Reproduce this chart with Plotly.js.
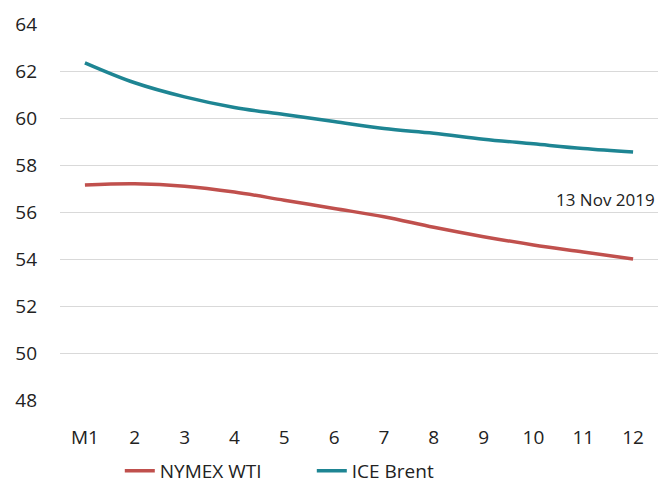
<!DOCTYPE html>
<html>
<head>
<meta charset="utf-8">
<script src="https://cdn.plot.ly/plotly-3.0.1.min.js"></script>
<style>html,body{margin:0;padding:0;background:#fff;}#chart{width:659px;height:483px;}</style>
</head>
<body>
<div id="chart"></div>
<script>
const months = ["M1","2","3","4","5","6","7","8","9","10","11","12"];
const wti = [57.15, 57.2, 57.1, 56.85, 56.5, 56.15, 55.8, 55.35, 54.95, 54.6, 54.3, 54.0];
const brent = [62.35, 61.5, 60.9, 60.45, 60.15, 59.85, 59.55, 59.35, 59.1, 58.9, 58.7, 58.55];
const noteText = "13 Nov 2019";

const font = "Open Sans, Noto Sans, sans-serif";
const traces = [
  {x: months, y: wti, name: "NYMEX WTI", type: "scatter", mode: "lines",
   line: {color: "#C0504D", width: 3.5, shape: "spline"}},
  {x: months, y: brent, name: "ICE Brent", type: "scatter", mode: "lines",
   line: {color: "#1E8593", width: 3.5, shape: "spline"}}
];
const layout = {
  width: 659, height: 483,
  margin: {l: 60, r: 1, t: 24, b: 83, autoexpand: false},
  paper_bgcolor: "#fff", plot_bgcolor: "#fff",
  font: {family: font, color: "#222", size: 19},
  showlegend: true,
  legend: {orientation: "h", x: 0.10, xanchor: "left", y: -0.138, yanchor: "top",
           font: {size: 19, color: "#222"}, entrywidth: 147, entrywidthmode: "pixels",
           tracegroupgap: 0},
  xaxis: {type: "category", range: [-0.5, 11.5], showgrid: false, zeroline: false,
          showline: false, ticks: "", ticklabelstandoff: 24, tickfont: {size: 19, color: "#222"}},
  yaxis: {range: [48, 64], tickvals: [48,50,52,54,56,58,60,62,64], showgrid: true,
          gridcolor: "#D9D9D9", gridwidth: 1, zeroline: false, showline: false, ticks: "",
          ticklabelstandoff: 22, tickfont: {size: 19, color: "#222"}},
  annotations: [{text: noteText, xref: "paper", yref: "y", x: 0.998, xanchor: "right",
                 y: 56.55, yanchor: "middle", showarrow: false, font: {size: 17, color: "#222"}}]
};
Plotly.newPlot("chart", traces, layout, {displayModeBar: false, staticPlot: true});
</script>
</body>
</html>
